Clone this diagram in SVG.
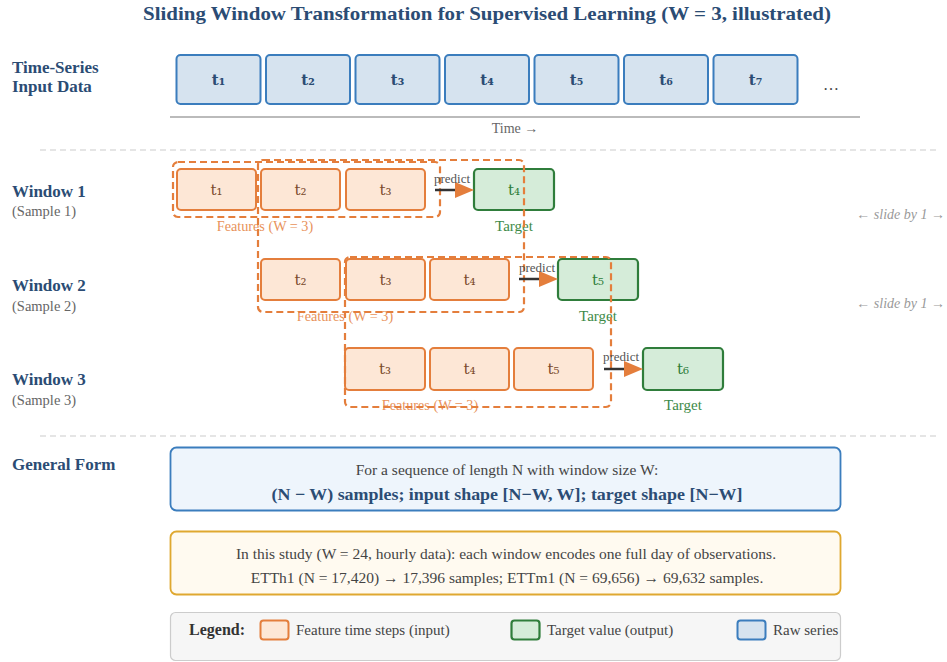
<svg xmlns="http://www.w3.org/2000/svg" width="947" height="662" viewBox="0 0 947 662">
<style>
text{font-family:"Liberation Serif","DejaVu Serif",serif}
.title{font-size:19px;font-weight:bold;fill:#2b4c74}
.lbl{font-size:17px;font-weight:bold;fill:#2b4c74}
.sub{font-size:14.5px;fill:#666}
.raw{fill:#d6e3ef;stroke:#3b7dbd;stroke-width:2}
.tt{font-family:"DejaVu Serif","Liberation Serif",serif;text-anchor:middle}
.rawt{font-size:15px;font-weight:bold;fill:#2b4c74}
.feat{fill:#fde7d6;stroke:#e47e3c;stroke-width:2}
.featt{font-size:15px;fill:#7a4b2c}
.tgt{fill:#d5ecd9;stroke:#2f7d3b;stroke-width:2.2}
.tgtt{font-size:15px;fill:#2f7d3b}
.win{fill:none;stroke:#e47e3c;stroke-width:2.2;stroke-dasharray:7 4}
.ftl{font-size:14.2px;fill:#e8925a;text-anchor:middle}
.tl{font-size:15px;fill:#3d8a48;text-anchor:middle}
.pred{font-size:13px;fill:#555;text-anchor:middle}
.sep{stroke:#ddd;stroke-width:1.5;stroke-dasharray:6 4}
.slide{font-size:14px;font-style:italic;fill:#999;text-anchor:end}
.body{font-size:15.5px;fill:#444;text-anchor:middle}
.leg{font-size:15px;fill:#444}
</style>
<rect width="947" height="662" fill="#fff"/>
<text class="title" x="487" y="20" text-anchor="middle" textLength="688" lengthAdjust="spacingAndGlyphs">Sliding Window Transformation for Supervised Learning (W = 3, illustrated)</text>

<g id="row-labels">
<text class="lbl" x="12" y="73">Time-Series</text>
<text class="lbl" x="12" y="92">Input Data</text>
<text class="lbl" x="12" y="197">Window 1</text>
<text class="sub" x="12" y="216">(Sample 1)</text>
<text class="lbl" x="12" y="291">Window 2</text>
<text class="sub" x="12" y="311">(Sample 2)</text>
<text class="lbl" x="12" y="385">Window 3</text>
<text class="sub" x="12" y="405">(Sample 3)</text>
<text class="lbl" x="12" y="470">General Form</text>
</g>

<g id="raw-series">
<g id="raw-t1"><rect class="raw" x="176.5" y="55" width="84" height="49" rx="4"/><text class="tt rawt" x="218.5" y="85">t₁</text></g>
<g id="raw-t2"><rect class="raw" x="266" y="55" width="84" height="49" rx="4"/><text class="tt rawt" x="308" y="85">t₂</text></g>
<g id="raw-t3"><rect class="raw" x="355.5" y="55" width="84" height="49" rx="4"/><text class="tt rawt" x="397.5" y="85">t₃</text></g>
<g id="raw-t4"><rect class="raw" x="445" y="55" width="84" height="49" rx="4"/><text class="tt rawt" x="487" y="85">t₄</text></g>
<g id="raw-t5"><rect class="raw" x="534.5" y="55" width="84" height="49" rx="4"/><text class="tt rawt" x="576.5" y="85">t₅</text></g>
<g id="raw-t6"><rect class="raw" x="624" y="55" width="84" height="49" rx="4"/><text class="tt rawt" x="666" y="85">t₆</text></g>
<g id="raw-t7"><rect class="raw" x="713.5" y="55" width="84" height="49" rx="4"/><text class="tt rawt" x="755.5" y="85">t₇</text></g>
<text x="831" y="90" font-size="16" fill="#444" text-anchor="middle">…</text>
<line x1="170" y1="117" x2="860" y2="117" stroke="#bbb" stroke-width="2"/>
<text x="515" y="133" font-size="14" fill="#666" text-anchor="middle">Time →</text>
</g>

<line class="sep" x1="40" y1="150" x2="936" y2="150"/>
<line class="sep" x1="40" y1="436" x2="936" y2="436"/>

<g id="window1">
<rect class="feat" x="177" y="169" width="79" height="41" rx="4"/><text class="tt featt" x="216.5" y="195">t₁</text>
<rect class="feat" x="261" y="169" width="79" height="41" rx="4"/><text class="tt featt" x="300.5" y="195">t₂</text>
<rect class="feat" x="346" y="169" width="79" height="41" rx="4"/><text class="tt featt" x="385.5" y="195">t₃</text>
<rect class="tgt" x="474" y="169" width="80" height="41" rx="4"/><text class="tt tgtt" x="514" y="195">t₄</text>
<text class="ftl" x="265" y="231">Features (W = 3)</text>
<text class="tl" x="514" y="231">Target</text>
</g>
<g id="window2">
<rect class="feat" x="261" y="259" width="79" height="41" rx="4"/><text class="tt featt" x="300.5" y="285">t₂</text>
<rect class="feat" x="346" y="259" width="79" height="41" rx="4"/><text class="tt featt" x="385.5" y="285">t₃</text>
<rect class="feat" x="430" y="259" width="79" height="41" rx="4"/><text class="tt featt" x="469.5" y="285">t₄</text>
<rect class="tgt" x="558" y="259" width="80" height="41" rx="4"/><text class="tt tgtt" x="598" y="285">t₅</text>
<text class="ftl" x="345" y="321">Features (W = 3)</text>
<text class="tl" x="598" y="321">Target</text>
</g>
<g id="window3">
<rect class="feat" x="345" y="348" width="80" height="42" rx="4"/><text class="tt featt" x="385" y="374">t₃</text>
<rect class="feat" x="430" y="348" width="79" height="42" rx="4"/><text class="tt featt" x="469.5" y="374">t₄</text>
<rect class="feat" x="514" y="348" width="79" height="42" rx="4"/><text class="tt featt" x="553.5" y="374">t₅</text>
<rect class="tgt" x="643" y="348" width="80" height="42" rx="4"/><text class="tt tgtt" x="683" y="374">t₆</text>
<text class="ftl" x="430" y="410">Features (W = 3)</text>
<text class="tl" x="683" y="410">Target</text>
</g>

<g id="window-frames">
<rect class="win" x="173" y="162" width="267" height="55" rx="5"/>
<rect class="win" x="258" y="160" width="266" height="152" rx="5"/>
<rect class="win" x="345" y="257" width="266" height="150" rx="5"/>
</g>

<g id="connectors">
<line x1="435" y1="190" x2="456" y2="190" stroke="#333" stroke-width="2.5"/>
<path d="M455,182 L474,190 L455,198 z" fill="#e47e3c"/>
<text class="pred" x="452" y="183">predict</text>
<line x1="519" y1="279" x2="540" y2="279" stroke="#333" stroke-width="2.5"/>
<path d="M539,271 L558,279 L539,287 z" fill="#e47e3c"/>
<text class="pred" x="537" y="272">predict</text>
<line x1="604" y1="369" x2="625" y2="369" stroke="#333" stroke-width="2.5"/>
<path d="M624,361 L643,369 L624,377 z" fill="#e47e3c"/>
<text class="pred" x="621" y="361">predict</text>
</g>

<text class="slide" x="945" y="219">← slide by 1 →</text>
<text class="slide" x="945" y="308">← slide by 1 →</text>

<g id="general-form">
<rect x="170.5" y="447.5" width="670" height="63" rx="6" fill="#eef5fc" stroke="#3b7dbd" stroke-width="1.8"/>
<text class="body" x="507" y="475" font-size="16">For a sequence of length N with window size W:</text>
<text x="507" y="500" font-size="17" font-weight="bold" fill="#2b4c74" text-anchor="middle" textLength="471" lengthAdjust="spacingAndGlyphs">(N − W) samples; input shape [N−W, W]; target shape [N−W]</text>
</g>

<g id="study-note">
<rect x="170.5" y="531.5" width="670" height="63" rx="6" fill="#fffaf0" stroke="#dfa830" stroke-width="1.8"/>
<text class="body" x="506" y="559">In this study (W = 24, hourly data): each window encodes one full day of observations.</text>
<text class="body" x="507" y="583" font-size="15.2">ETTh1 (N = 17,420) → 17,396 samples; ETTm1 (N = 69,656) → 69,632 samples.</text>
</g>

<g id="legend">
<rect x="170.5" y="612.5" width="670" height="48" rx="5" fill="#f6f6f6" stroke="#ccc" stroke-width="1.2"/>
<text x="189" y="635" font-size="16" font-weight="bold" fill="#333">Legend:</text>
<rect class="feat" x="260.5" y="620.5" width="28" height="19" rx="3" stroke-width="1.5"/>
<text class="leg" x="296" y="635">Feature time steps (input)</text>
<rect class="tgt" x="511.5" y="620.5" width="28" height="19" rx="3" stroke-width="1.5"/>
<text class="leg" x="547" y="635">Target value (output)</text>
<rect class="raw" x="737.5" y="620.5" width="28" height="19" rx="3" stroke-width="1.5"/>
<text class="leg" x="773" y="635">Raw series</text>
</g>
</svg>
